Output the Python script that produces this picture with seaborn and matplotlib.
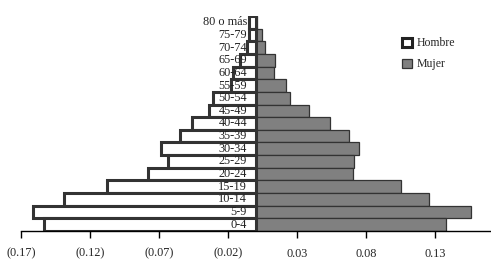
import numpy as np
import pandas as pd

import matplotlib.pyplot as plt
import seaborn as sns
from matplotlib.patches import Patch

# Datos
grupos = ["80 o más", "75-79", "70-74", "65-69", "60-64", "55-59", "50-54",
          "45-49", "40-44", "35-39", "30-34", "25-29", "20-24", "15-19",
          "10-14", "5-9", "0-4"]
hombre = [0.0045, 0.0045, 0.0064, 0.0112, 0.0161, 0.0178, 0.0306,
          0.0335, 0.0462, 0.0545, 0.0685, 0.0632, 0.0780, 0.1080,
          0.1390, 0.1610, 0.1530]
mujer = [0.0013, 0.0049, 0.0069, 0.0143, 0.0136, 0.0223, 0.0252,
         0.0390, 0.0540, 0.0680, 0.0752, 0.0716, 0.0709, 0.1052,
         0.1255, 0.1564, 0.1378]
ticks = [-0.17, -0.12, -0.07, -0.02, 0.03, 0.08, 0.13]

df = pd.DataFrame({
    "grupo": grupos,
    "hombre": -np.array(hombre),
    "mujer": mujer
})

sns.set_style("white")
plt.rcParams["font.family"] = ["Liberation Serif", "DejaVu Serif"]

fig = plt.figure(figsize=(4.91, 2.63), dpi=100)
ax = fig.add_axes([21 / 491, 1 - 231 / 263, 469 / 491, 215 / 263])

sns.barplot(
    data=df, x="mujer", y="grupo", order=grupos, orient="h",
    color="#808080", edgecolor="#333333", linewidth=0.9,
    width=1.0, saturation=1, ax=ax
)
sns.barplot(
    data=df, x="hombre", y="grupo", order=grupos, orient="h",
    color="white", edgecolor="#333333", linewidth=2.2,
    width=1.0, saturation=1, ax=ax
)

# etiquetas de grupo dentro del grafico, junto al eje central
for i, g in enumerate(grupos):
    ax.text(-0.0062, i, g, ha="right", va="center", fontsize=8.8,
            color="#222222", zorder=5)

ax.set_xlim(-0.17, 0.17)
ax.set_ylim(len(grupos) - 0.5, -0.5)
ax.set_yticks([])
ax.set_ylabel("")
ax.set_xlabel("")
ax.set_xticks(ticks)
ax.set_xticklabels(
    [f"({abs(t):.2f})" if t < 0 else f"{t:.2f}" for t in ticks],
    fontsize=8.8
)
ax.tick_params(axis="x", direction="out", length=5, width=1,
               color="black", pad=7, bottom=True)

for s in ["top", "right", "left"]:
    ax.spines[s].set_visible(False)
ax.spines["bottom"].set_color("black")
ax.spines["bottom"].set_linewidth(1)

handles = [
    Patch(facecolor="white", edgecolor="#222222", linewidth=2.2, label="Hombre"),
    Patch(facecolor="#808080", edgecolor="#333333", linewidth=0.9, label="Mujer"),
]
ax.legend(handles=handles, loc="upper left", bbox_to_anchor=(0.79, 0.95),
          frameon=False, fontsize=8.5, handlelength=0.8, handleheight=0.8,
          handletextpad=0.4, labelspacing=0.75)

plt.savefig("out.png", dpi=100)
